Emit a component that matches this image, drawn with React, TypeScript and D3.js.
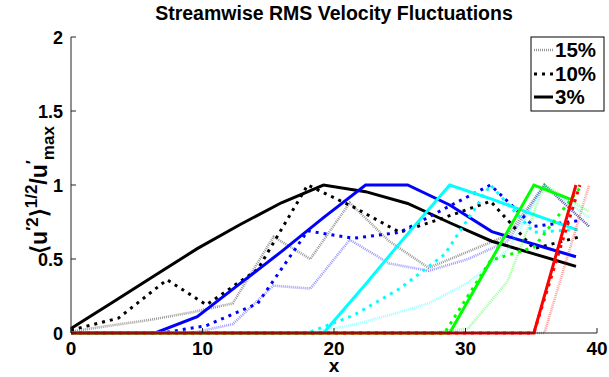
import React from 'react';
import * as d3 from 'd3';

// x stations for each turbulence intensity case
const x3 = [0, 3.2, 6.4, 9.6, 12.8, 16, 19.2, 22.4, 25.6, 28.8, 32, 35.2, 38.4];
const x10 = [0, 3.6, 7.3, 10.3, 14.2, 18, 21.5, 25, 28.4, 31.9, 35.2, 38.7];
const x15 = [0, 3, 6.1, 9.2, 12.3, 15.4, 18.2, 21.2, 24.2, 27.2, 30.2, 33.2, 36, 39.4];

// 3% (solid)
const black3 = [0.03, 0.21, 0.39, 0.57, 0.73, 0.88, 1.0, 0.955, 0.875, 0.745, 0.62, 0.535, 0.45];
const blue3 = [0, 0, 0, 0.11, 0.33, 0.55, 0.78, 1.0, 1.0, 0.865, 0.685, 0.6, 0.515];
const cyan3 = [0, 0, 0, 0, 0, 0, 0, 0.33, 0.67, 1.0, 0.905, 0.8, 0.7];
const green3 = [0, 0, 0, 0, 0, 0, 0, 0, 0, 0, 0.5, 1.0, 0.89];
const red3 = [0, 0, 0, 0, 0, 0, 0, 0, 0, 0, 0, 0, 1.0];

// 10% (dotted)
const black10 = [0.02, 0.1, 0.36, 0.19, 0.43, 1.0, 0.85, 0.68, 0.78, 0.89, 0.57, 0.65];
const blue10 = [0, 0, 0.005, 0.05, 0.2, 0.69, 0.64, 0.68, 0.84, 1.0, 0.72, 0.76];
const cyan10 = [0, 0, 0, 0, 0, 0, 0.12, 0.3, 0.53, 1.0, 0.68, 0.7];
const green10 = [0, 0, 0, 0, 0, 0, 0, 0, 0, 0.49, 0.58, 0.98];
const red10 = [0, 0, 0, 0, 0, 0, 0, 0, 0, 0, 0, 1.0];

// 15% (faint dotted)
const black15 = [0.01, 0.05, 0.09, 0.14, 0.2, 0.65, 0.5, 0.88, 0.62, 0.44, 0.55, 0.66, 1.0, 0.72];
const blue15 = [0, 0, 0, 0, 0.06, 0.32, 0.3, 0.63, 0.47, 0.42, 0.5, 0.62, 1.0, 0.72];
const cyan15 = [0, 0, 0, 0, 0, 0, 0, 0.05, 0.12, 0.2, 0.34, 0.56, 1.0, 0.78];
const green15 = [0, 0, 0, 0, 0, 0, 0, 0, 0, 0, 0.03, 0.35, 1.0, 0.82];
const red15 = [0, 0, 0, 0, 0, 0, 0, 0, 0, 0, 0, 0, 0, 1.0];

const xTicks = [0, 10, 20, 30, 40];
const yTicks = [0, 0.5, 1, 1.5, 2];
const yTickLabels = ['0', '0.5', '1', '1.5', '2'];
const legendLabels = ['15%', '10%', '3%'];

const colors = ['#000000', '#0000ff', '#00ffff', '#00ff00', '#ff0000'];

type Style = 'faint' | 'dot' | 'solid';

export default function App() {
  const W = 609, H = 377;
  const left = 71, right = 597, top = 37, bottom = 333;
  const xs = d3.scaleLinear().domain([0, 40]).range([left, right]);
  const ys = d3.scaleLinear().domain([0, 2]).range([bottom, top]);

  const groups: { xv: number[]; yv: number[]; style: Style }[][] = [
    [{ xv: x15, yv: black15, style: 'faint' }, { xv: x10, yv: black10, style: 'dot' }, { xv: x3, yv: black3, style: 'solid' }],
    [{ xv: x15, yv: blue15, style: 'faint' }, { xv: x10, yv: blue10, style: 'dot' }, { xv: x3, yv: blue3, style: 'solid' }],
    [{ xv: x15, yv: cyan15, style: 'faint' }, { xv: x10, yv: cyan10, style: 'dot' }, { xv: x3, yv: cyan3, style: 'solid' }],
    [{ xv: x15, yv: green15, style: 'faint' }, { xv: x10, yv: green10, style: 'dot' }, { xv: x3, yv: green3, style: 'solid' }],
    [{ xv: x15, yv: red15, style: 'faint' }, { xv: x10, yv: red10, style: 'dot' }, { xv: x3, yv: red3, style: 'solid' }],
  ];

  const styleProps = (s: Style, c: string) => {
    if (s === 'faint') return { stroke: c, strokeOpacity: 0.4, strokeWidth: 2.6, strokeDasharray: '1,1' };
    if (s === 'dot') return { stroke: c, strokeWidth: 3, strokeDasharray: '3,5' };
    return { stroke: c, strokeWidth: 3 };
  };

  const font = "'Liberation Sans', Arial, Helvetica, sans-serif";

  const paths: any[] = [];
  groups.forEach((g, gi) => {
    g.forEach((s, si) => {
      const pts = s.xv.map((xv, i) => [xs(xv), ys(s.yv[i])] as [number, number]);
      paths.push(
        <path key={`${gi}-${si}`} d={d3.line()(pts) || ''} fill="none" {...styleProps(s.style, colors[gi])} strokeLinejoin="miter" />
      );
    });
  });

  const legX = 531, legY = 37, legW = 73, legH = 74;
  const legStyles: Style[] = ['faint', 'dot', 'solid'];
  const legRowY = [57, 81, 104];

  return (
    <svg width={W} height={H} style={{ position: 'absolute', left: 0, top: 0, background: '#fff' }} fontFamily={font}>
      <rect x={0} y={0} width={W} height={H} fill="#fff" />
      {/* title */}
      <text x={334} y={20} textAnchor="middle" fontWeight="bold" fontSize={19.5}>Streamwise RMS Velocity Fluctuations</text>

      {/* data */}
      {paths}

      {/* axes */}
      <line x1={left} x2={left} y1={top} y2={bottom} stroke="#222" strokeWidth={1} />
      <line x1={left} x2={right} y1={bottom} y2={bottom} stroke="#222" strokeWidth={1} />
      {xTicks.map((t) => (
        <g key={`xt${t}`}>
          <line x1={xs(t)} x2={xs(t)} y1={bottom} y2={bottom - 5} stroke="#222" strokeWidth={1} />
          <text x={xs(t)} y={355} textAnchor="middle" fontWeight="bold" fontSize={19}>{t}</text>
        </g>
      ))}
      {yTicks.map((t, i) => (
        <g key={`yt${t}`}>
          <line x1={left} x2={left + 5} y1={ys(t)} y2={ys(t)} stroke="#222" strokeWidth={1} />
          <text x={63} y={ys(t) + 7} textAnchor="end" fontWeight="bold" fontSize={18}>{yTickLabels[i]}</text>
        </g>
      ))}

      {/* axis labels */}
      <text x={334} y={372} textAnchor="middle" fontWeight="bold" fontSize={19}>x</text>
      <text transform="translate(47,190) rotate(-90)" textAnchor="middle" fontWeight="bold" fontSize={23}>
        <tspan>⟨u</tspan>
        <tspan fontSize={17} dy={-9}>′2</tspan>
        <tspan dy={9}>⟩</tspan>
        <tspan fontSize={17} dy={-10}>1/2</tspan>
        <tspan dy={10}>/u</tspan>
        <tspan fontSize={17} dy={-9}>′</tspan>
        <tspan fontSize={17} dy={16}>max</tspan>
      </text>

      {/* legend */}
      <rect x={legX} y={legY} width={legW} height={legH} fill="#fff" stroke="#000" strokeWidth={1} />
      {legendLabels.map((lab, i) => (
        <g key={lab}>
          <line x1={534} x2={553} y1={legRowY[i] - 7} y2={legRowY[i] - 7} fill="none" {...styleProps(legStyles[i], '#000')} />
          <text x={555} y={legRowY[i]} fontWeight="bold" fontSize={20.5}>{lab}</text>
        </g>
      ))}
    </svg>
  );
}
